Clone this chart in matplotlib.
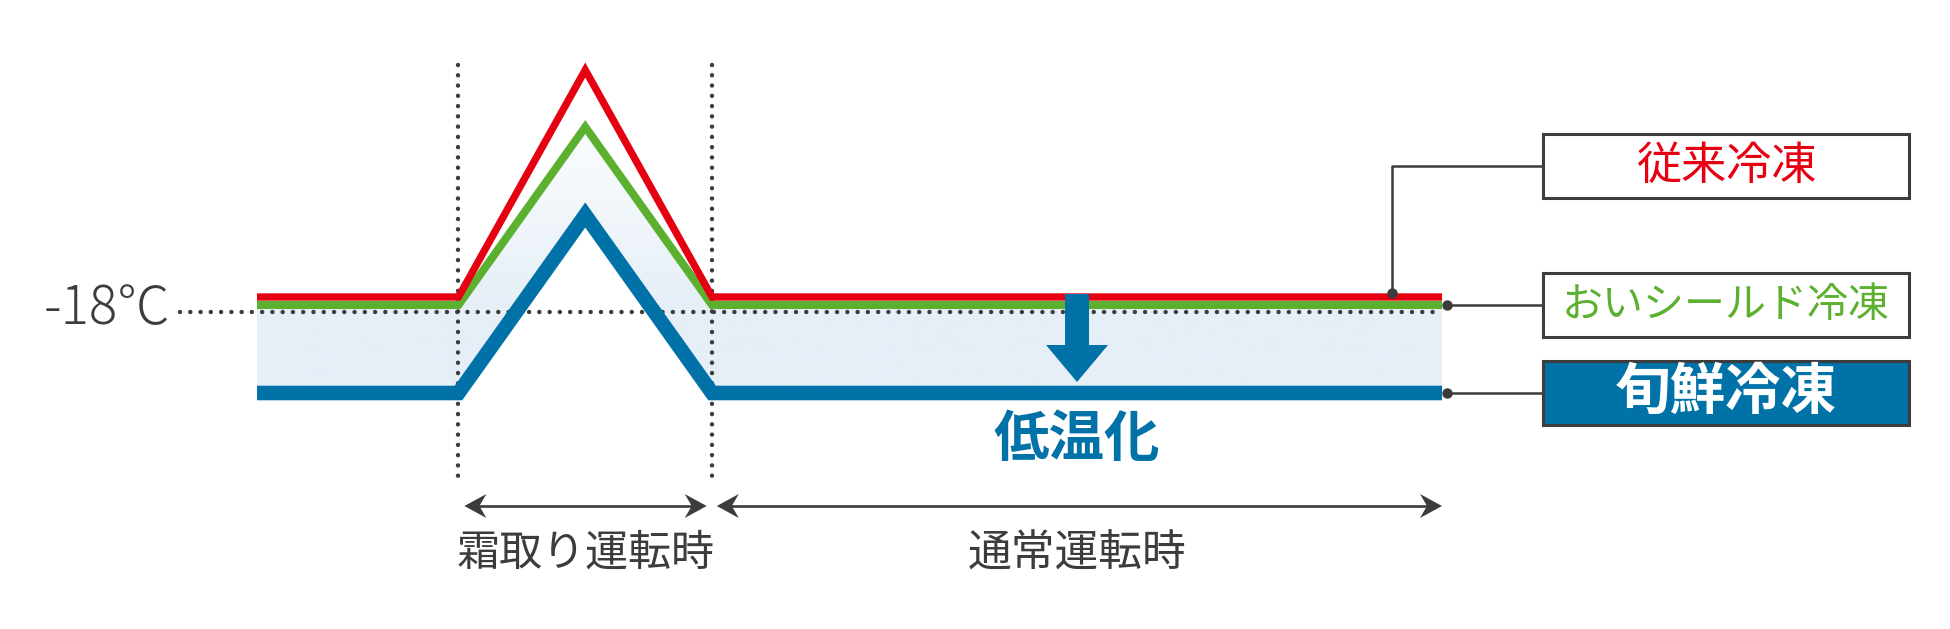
import numpy as np
import matplotlib
matplotlib.use("Agg")
import matplotlib.pyplot as plt
from matplotlib.patches import Polygon, Rectangle
from matplotlib.colors import LinearSegmentedColormap

plt.rcParams['font.family'] = ['Noto Sans CJK JP', 'DejaVu Sans']

# schematic time axis (0 = start, 100 = end) and temperature in degC
time_pts = [0, 17.0, 27.7, 38.4, 100]
temp_conventional = [-16.5, -16.5, 6.2, -16.5, -16.5]   # 従来冷凍
temp_oishield = [-17.3, -17.3, 0.5, -17.3, -17.3]       # おいシールド冷凍
temp_shunsen = [-26.1, -26.1, -8.3, -26.1, -26.1]       # 旬鮮冷凍
ref_temp = -18
ref_label = '-18℃'
series_names = ['従来冷凍', 'おいシールド冷凍', '旬鮮冷凍']
phase_labels = ['霜取り運転時', '通常運転時']
drop_label = '低温化'

RED = '#e50012'
GREEN = '#5bb030'
BLUE = '#0072a8'
FILL = '#e6eff7'
DARK = '#3c3c3c'

W, H, DPI = 1950, 629, 100
XLIM = (-21.69, 142.87)
YLIM = (-49.7, 13.2)

fig = plt.figure(figsize=(W / DPI, H / DPI), dpi=DPI)
ax = fig.add_axes([0, 0, 1, 1])

# data units per pixel
px_x = (XLIM[1] - XLIM[0]) / W
px_y = (YLIM[1] - YLIM[0]) / H

# light band between green and blue, fading to white inside the peak
verts = list(zip(time_pts, temp_oishield)) + list(zip(time_pts[::-1], temp_shunsen[::-1]))
clip = Polygon(verts, closed=True, facecolor='none', edgecolor='none')
ax.add_patch(clip)
top, bot, flat = max(temp_oishield), min(temp_shunsen), temp_oishield[0]
ys = np.linspace(top, bot, 300)
t = np.clip((top - ys) / (top - flat), 0, 1)
cmap = LinearSegmentedColormap.from_list('band', ['#fbfdfe', FILL])
img = ax.imshow(t[:, None], cmap=cmap, vmin=0, vmax=1, aspect='auto',
                extent=[time_pts[0], time_pts[-1], bot, top], origin='upper', zorder=1)
img.set_clip_path(clip)

# -18 reference dotted line
dot_style = dict(color=DARK, lw=3.2, ls=(0, (0.01, 2.3)), dash_capstyle='round', zorder=2)
ax.plot([-6.5, time_pts[-1]], [ref_temp, ref_temp], **dot_style)

# phase boundaries
for xv in (time_pts[1], time_pts[3]):
    ax.plot([xv, xv], [6.7, -34.9], **dot_style)

# temperature lines
ax.plot(time_pts, temp_shunsen, color=BLUE, lw=10.5, solid_joinstyle='miter',
        solid_capstyle='butt', zorder=3)
ax.plot(time_pts, temp_oishield, color=GREEN, lw=5.8, solid_joinstyle='miter',
        solid_capstyle='butt', zorder=4)
ax.plot(time_pts, temp_conventional, color=RED, lw=5.3, solid_joinstyle='miter',
        solid_capstyle='butt', zorder=5)

# big down arrow
ax_c = 69.2
sh, hh = 12 * px_x, 31 * px_x
a_top = temp_conventional[0] + 0.3
a_base = -21.3
a_tip = temp_shunsen[0] + 1.1
ax.add_patch(Polygon([(ax_c - sh, a_top), (ax_c + sh, a_top), (ax_c + sh, a_base),
                      (ax_c + hh, a_base), (ax_c, a_tip), (ax_c - hh, a_base),
                      (ax_c - sh, a_base)], closed=True, color=BLUE, lw=0, zorder=6))
ax.text(ax_c, -30.8, drop_label, ha='center', va='center', fontsize=40,
        fontweight='bold', color=BLUE, zorder=6)


def head(x, y, d):
    L, hw, n = 22 * px_x, 12 * px_y, 7 * px_x
    pts = [(x, y), (x - d * L, y + hw), (x - d * (L - n), y), (x - d * L, y - hw)]
    ax.add_patch(Polygon(pts, closed=True, color=DARK, lw=0, zorder=6))


def dbl_arrow(x0, x1, y, left=True):
    ax.plot([x0 + (5 * px_x if left else 0), x1 - 5 * px_x], [y, y], color=DARK,
            lw=1.9, solid_capstyle='butt', zorder=5)
    if left:
        head(x0, y, -1)
    head(x1, y, 1)


arr_y = -37.4
dbl_arrow(time_pts[1] + 0.5, time_pts[3] - 0.45, arr_y)
dbl_arrow(time_pts[3] + 0.4, time_pts[4], arr_y)

lab_y = -42.2
ax.text(time_pts[2], lab_y, phase_labels[0], ha='center', va='center',
        fontsize=31, color=DARK)
ax.text((time_pts[3] + time_pts[4]) / 2, lab_y, phase_labels[1], ha='center',
        va='center', fontsize=31.5, color=DARK)

ax.text(-7.3, -17.7, ref_label, ha='right', va='center', fontsize=38,
        fontweight='light', color=DARK)

# legend boxes with leader lines
bx0, bx1 = 108.5, 139.4
bh = 6.4
box_y = [-3.4, temp_oishield[0], temp_shunsen[0]]
box_face = ['white', 'white', BLUE]
txt_col = [RED, GREEN, 'white']
txt_size = [32.5, 29.5, 40]
txt_wt = ['normal', 'normal', 'bold']
for name, yc, fc, tc, fs, fw in zip(series_names, box_y, box_face, txt_col, txt_size, txt_wt):
    ax.add_patch(Rectangle((bx0, yc - bh / 2), bx1 - bx0, bh, facecolor=fc,
                           edgecolor=DARK, lw=2.2, zorder=6))
    ax.text((bx0 + bx1) / 2, yc, name, ha='center', va='center', fontsize=fs,
            fontweight=fw, color=tc, zorder=7)

red_dot_x = 95.8
red_dot_y = temp_conventional[0] + 0.4
ax.plot([red_dot_x, red_dot_x, bx0], [red_dot_y, box_y[0], box_y[0]], color=DARK,
        lw=1.8, zorder=6)
ax.plot([red_dot_x], [red_dot_y], 'o', color=DARK, ms=6.5, zorder=7)
end_dot_x = 100.4
for yv in (temp_oishield[0], temp_shunsen[0]):
    ax.plot([end_dot_x, bx0], [yv, yv], color=DARK, lw=1.8, zorder=6)
    ax.plot([end_dot_x], [yv], 'o', color=DARK, ms=6.5, zorder=7)

ax.set_xlim(*XLIM)
ax.set_ylim(*YLIM)
ax.axis('off')

fig.savefig('out.png', dpi=DPI)
